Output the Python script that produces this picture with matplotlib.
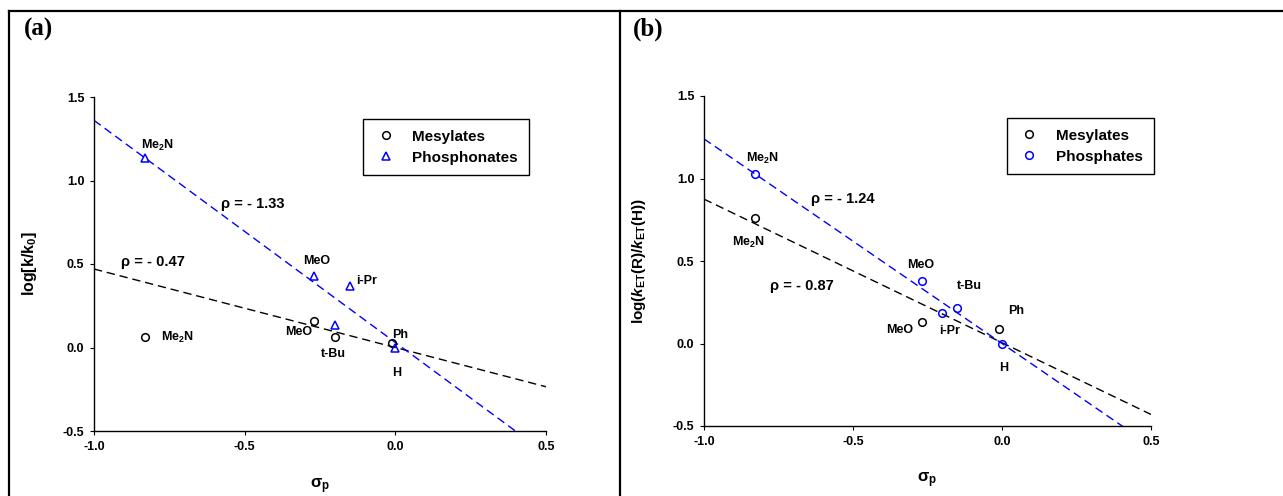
import numpy as np
import matplotlib
matplotlib.use("Agg")
import matplotlib.pyplot as plt
from matplotlib.lines import Line2D

# Fonts: Arial-like bold everywhere, mathtext follows the same family
plt.rcParams['font.family'] = ['Liberation Sans', 'DejaVu Sans']
plt.rcParams['font.weight'] = 'bold'
plt.rcParams['mathtext.fontset'] = 'custom'
plt.rcParams['mathtext.rm'] = 'Liberation Sans:bold'
plt.rcParams['mathtext.it'] = 'Liberation Sans:italic:bold'
plt.rcParams['mathtext.bf'] = 'Liberation Sans:bold'

# Panel (a) data: sigma_p vs log[k/k0]
a_mes_x = [-0.83, -0.27, -0.20, -0.01]
a_mes_y = [0.065, 0.16, 0.065, 0.025]
a_pho_x = [-0.83, -0.27, -0.15, -0.20, 0.0]
a_pho_y = [1.135, 0.43, 0.37, 0.135, 0.0]
a_mes_rho, a_mes_b = -0.47, 0.0
a_pho_rho, a_pho_b = -1.33, 0.03
a_labels = ["Me$_2$N", "MeO", "i-Pr", "Me$_2$N", "MeO", "t-Bu", "Ph", "H"]
a_lab_x = [-0.79, -0.26, -0.13, -0.776, -0.365, -0.205, -0.01, 0.003]
a_lab_y = [1.21, 0.52, 0.40, 0.063, 0.09, -0.04, 0.075, -0.15]
a_lab_ha = ["center", "center", "left", "left", "left", "center", "left", "center"]
a_rho_text = ["ρ = - 1.33", "ρ = - 0.47"]
a_rho_x = [-0.577, -0.91]
a_rho_y = [0.86, 0.51]

# Panel (b) data: sigma_p vs log(kET(R)/kET(H))
b_mes_x = [-0.83, -0.27, -0.01]
b_mes_y = [0.76, 0.132, 0.088]
b_pho_x = [-0.83, -0.27, -0.20, -0.15, 0.0]
b_pho_y = [1.03, 0.38, 0.187, 0.217, 0.0]
b_mes_rho, b_mes_b = -0.87, 0.005
b_pho_rho, b_pho_b = -1.24, 0.0
b_labels = ["Me$_2$N", "Me$_2$N", "MeO", "t-Bu", "Ph", "MeO", "i-Pr", "H"]
b_lab_x = [-0.805, -0.85, -0.273, -0.11, 0.046, -0.343, -0.175, 0.007]
b_lab_y = [1.12, 0.61, 0.476, 0.35, 0.20, 0.08, 0.076, -0.15]
b_rho_text = ["ρ = - 1.24", "ρ = - 0.87"]
b_rho_x = [-0.64, -0.78]
b_rho_y = [0.876, 0.35]

fit_x = np.array([-1.0, 0.5])
xticks = [-1.0, -0.5, 0.0, 0.5]
yticks = [-0.5, 0.0, 0.5, 1.0, 1.5]

W, H = 1283, 496
fig = plt.figure(figsize=(W / 100, H / 100), dpi=100)
ax1 = fig.add_axes([94 / W, 1 - 431 / H, (546 - 94) / W, (431 - 97) / H])
ax2 = fig.add_axes([704 / W, 1 - 426 / H, (1151 - 704) / W, (426 - 96) / H])

# outer frame lines of the two panels
for xs, ys in [([9 / W, 1.0], [1 - 11 / H] * 2),
               ([9 / W] * 2, [0.0, 1 - 11 / H]),
               ([620 / W] * 2, [0.0, 1 - 11 / H])]:
    fig.add_artist(Line2D(xs, ys, transform=fig.transFigure, color='black', lw=1.6))

fig.text(24 / W, 1 - 29 / H, "(a)", family='Liberation Serif', fontsize=18,
         fontweight='bold', va='center', ha='left')
fig.text(633 / W, 1 - 29 / H, "(b)", family='Liberation Serif', fontsize=18,
         fontweight='bold', va='center', ha='left')

dash = (0, (6, 3.5))


def style_axes(ax):
    ax.set_xlim(-1.0, 0.5)
    ax.set_ylim(-0.5, 1.5)
    ax.set_xticks(xticks)
    ax.set_yticks(yticks)
    ax.set_xticklabels([f"{v:.1f}" for v in xticks])
    ax.set_yticklabels([f"{v:.1f}" for v in yticks])
    ax.spines['top'].set_visible(False)
    ax.spines['right'].set_visible(False)
    for s in ['left', 'bottom']:
        ax.spines[s].set_linewidth(1.0)
    ax.tick_params(direction='out', length=3, width=0.8, labelsize=9, pad=4)
    ax.set_xlabel("σ$_{\\rm p}$", fontsize=12, fontweight='bold')
    ax.xaxis.set_label_coords(0.5, -0.135)


# Chart (a)
ax = ax1
ax.plot(fit_x, a_mes_b + a_mes_rho * fit_x, color='black', lw=1.0, ls=dash)
ax.plot(fit_x, a_pho_b + a_pho_rho * fit_x, color='blue', lw=1.0, ls=dash)
ax.plot(a_mes_x, a_mes_y, 'o', mfc='none', mec='black', ms=5.5, mew=1.1, label='Mesylates')
ax.plot(a_pho_x, a_pho_y, '^', mfc='none', mec='blue', ms=6, mew=1.1, label='Phosphonates')
for t, x, y, ha in zip(a_labels, a_lab_x, a_lab_y, a_lab_ha):
    ax.text(x, y, t, fontsize=9, fontweight='bold', ha=ha, va='center')
for t, x, y in zip(a_rho_text, a_rho_x, a_rho_y):
    ax.text(x, y, t, fontsize=10.5, fontweight='bold', ha='left', va='center')
style_axes(ax)
ax.set_ylabel("log[k/k$_{\\rm 0}$]", fontsize=11.5, fontweight='bold')
ax.yaxis.set_label_coords(-0.122, 0.5)
leg = ax.legend(loc='upper left', bbox_to_anchor=(0.596, 0.934), fontsize=11,
                fancybox=False, framealpha=1, edgecolor='black', handlelength=1.5,
                handletextpad=1.0, borderpad=0.7, labelspacing=0.45, borderaxespad=0)
leg.get_frame().set_linewidth(1.0)

# Chart (b)
ax = ax2
ax.plot(fit_x, b_mes_b + b_mes_rho * fit_x, color='black', lw=1.0, ls=dash)
ax.plot(fit_x, b_pho_b + b_pho_rho * fit_x, color='blue', lw=1.0, ls=dash)
ax.plot(b_mes_x, b_mes_y, 'o', mfc='none', mec='black', ms=5.5, mew=1.1, label='Mesylates')
ax.plot(b_pho_x, b_pho_y, 'o', mfc='none', mec='blue', ms=5.5, mew=1.1, label='Phosphates')
for t, x, y in zip(b_labels, b_lab_x, b_lab_y):
    ax.text(x, y, t, fontsize=9, fontweight='bold', ha='center', va='center')
for t, x, y in zip(b_rho_text, b_rho_x, b_rho_y):
    ax.text(x, y, t, fontsize=10.5, fontweight='bold', ha='left', va='center')
style_axes(ax)
ax.set_ylabel("log($\\mathit{k}_{\\rm ET}$(R)/$\\mathit{k}_{\\rm ET}$(H))", fontsize=11,
              fontweight='bold')
ax.yaxis.set_label_coords(-0.125, 0.5)
leg = ax.legend(loc='upper left', bbox_to_anchor=(0.678, 0.933), fontsize=11,
                fancybox=False, framealpha=1, edgecolor='black', handlelength=1.5,
                handletextpad=1.0, borderpad=0.7, labelspacing=0.45, borderaxespad=0)
leg.get_frame().set_linewidth(1.0)

fig.savefig("out.png", dpi=100)
